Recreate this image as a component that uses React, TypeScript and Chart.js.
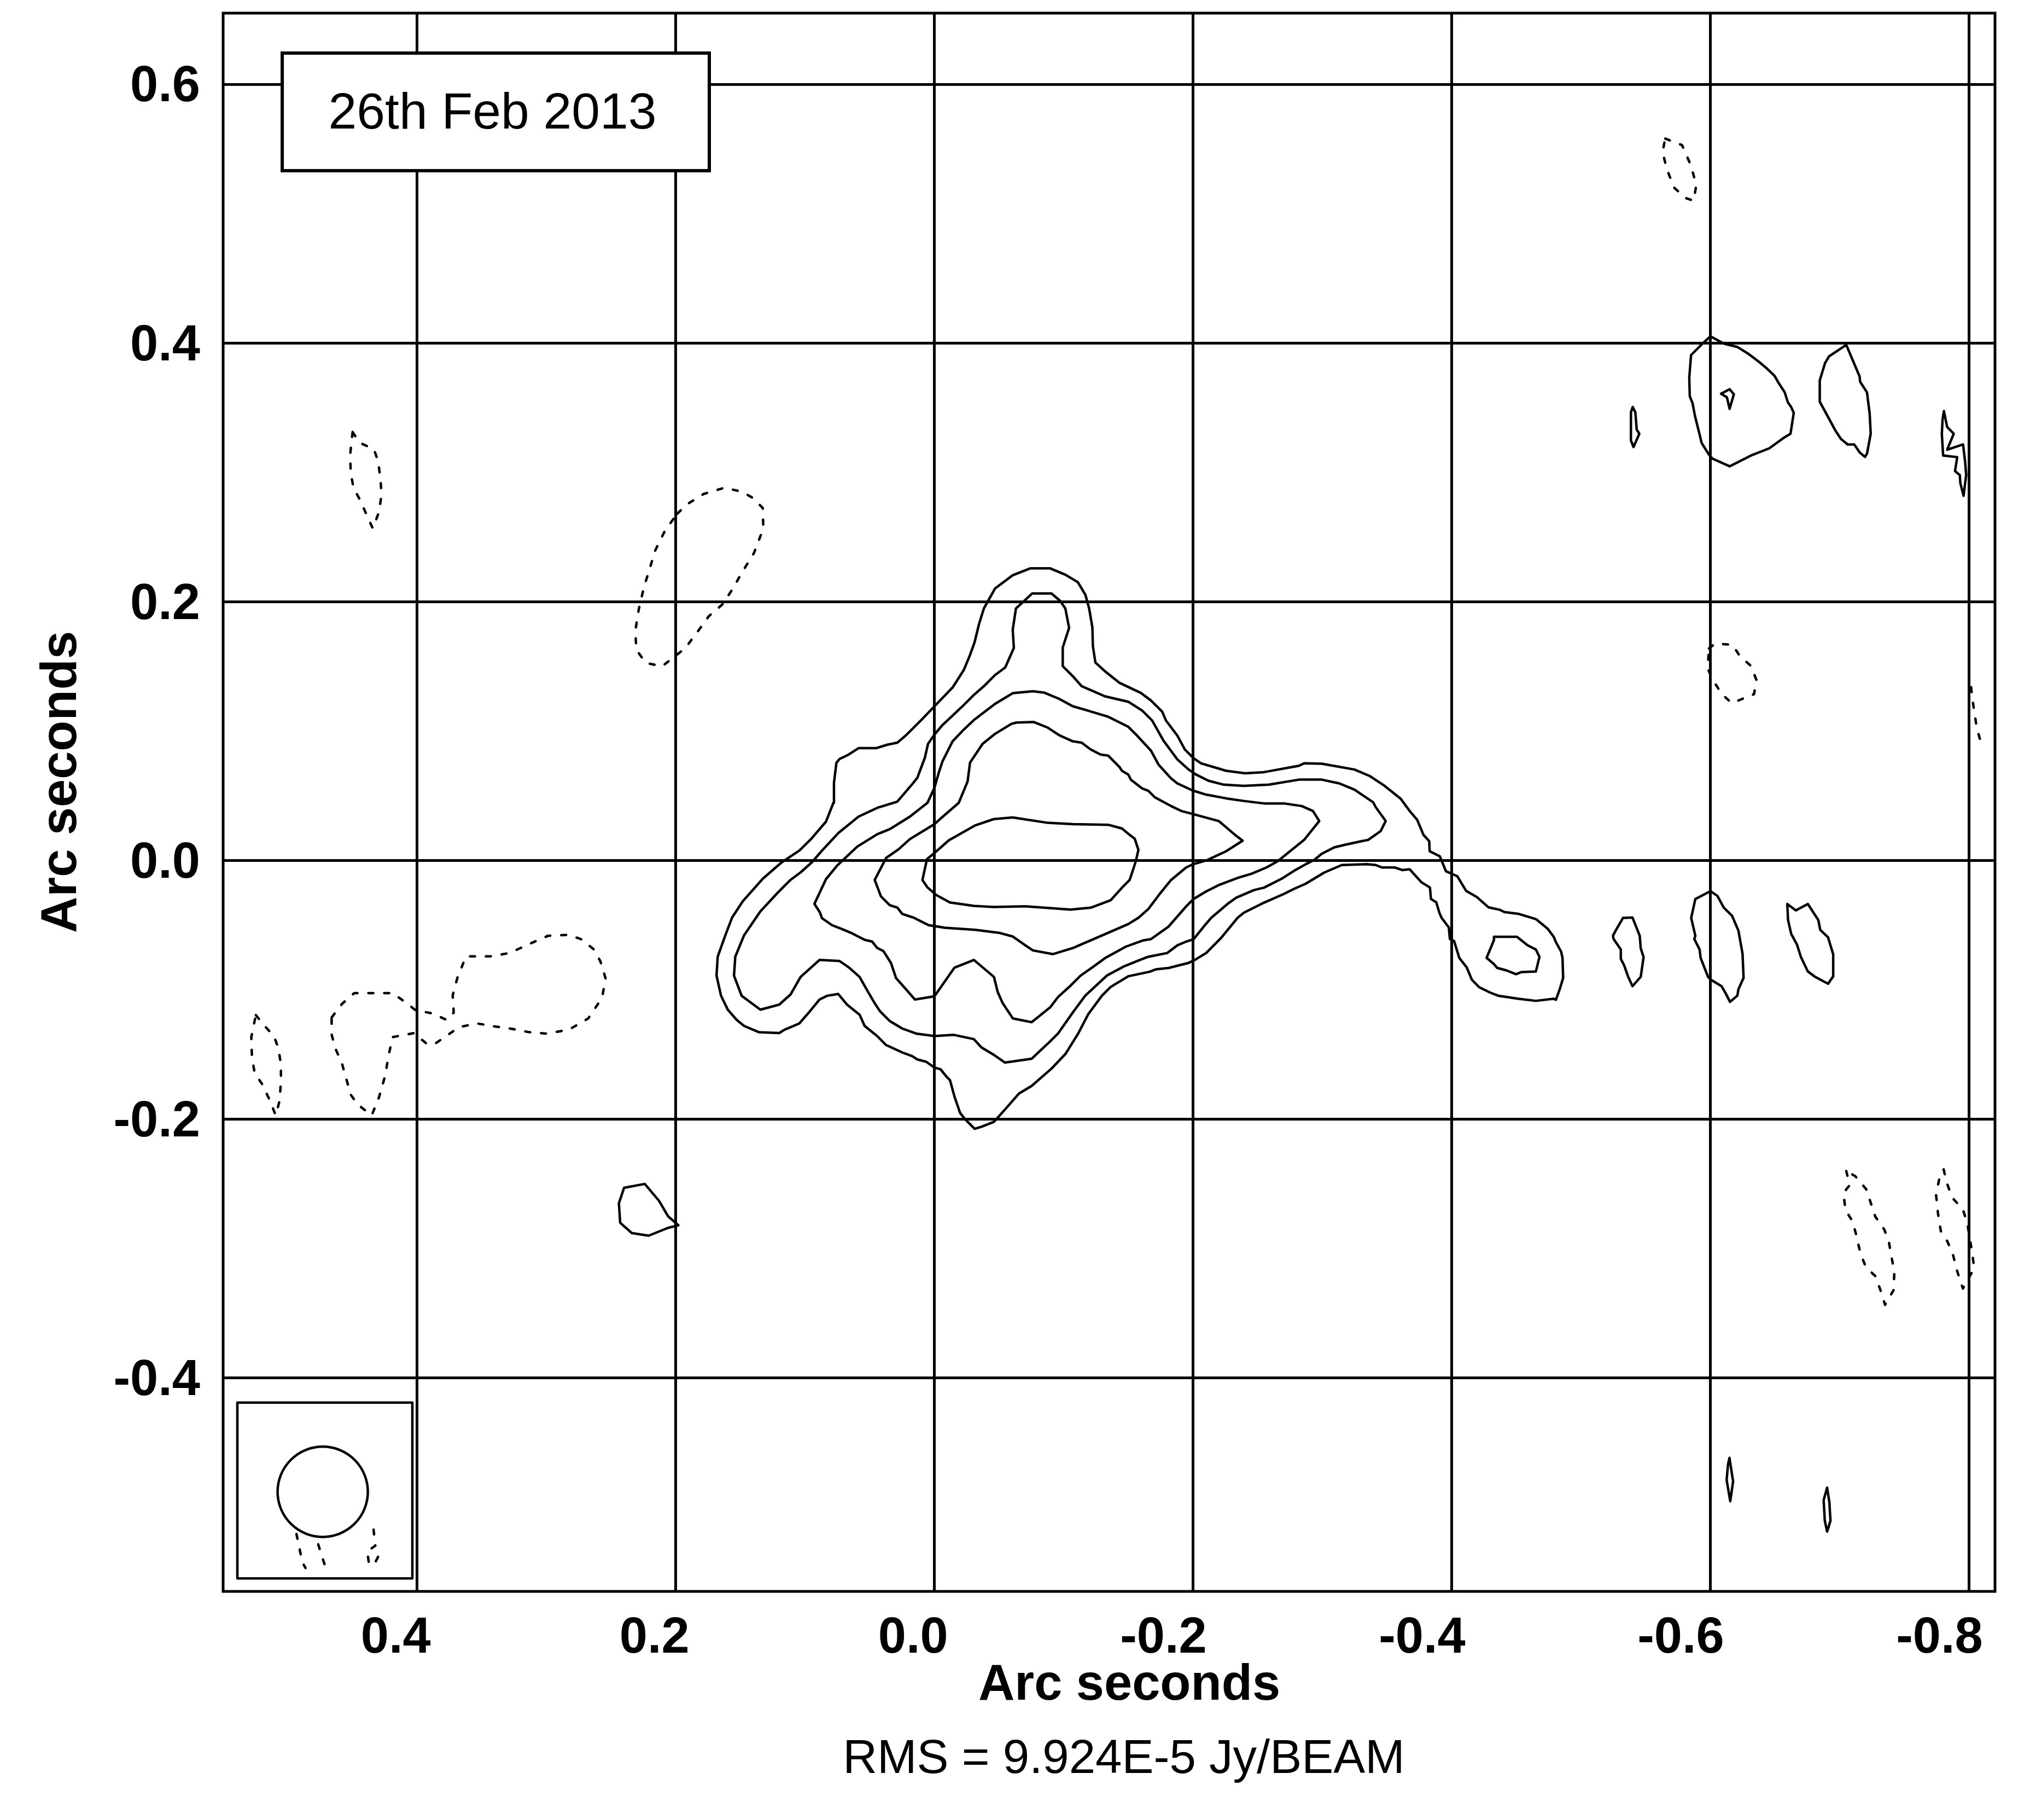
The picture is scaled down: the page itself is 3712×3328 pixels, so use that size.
import React, { useEffect, useRef } from "react";
import { Chart, registerables } from "chart.js";
Chart.register(...registerables);

type P = [number, number];

// ---- axes ----
const xMin = -0.82;
const xMax = 0.55;
const yMin = -0.565;
const yMax = 0.655;
const xTickValues = [0.4, 0.2, 0.0, -0.2, -0.4, -0.6, -0.8];
const xTickLabels = ["0.4", "0.2", "0.0", "-0.2", "-0.4", "-0.6", "-0.8"];
const yTickValues = [0.6, 0.4, 0.2, 0.0, -0.2, -0.4];
const yTickLabels = ["0.6", "0.4", "0.2", "0.0", "-0.2", "-0.4"];
const xAxisTitle = "Arc seconds";
const yAxisTitle = "Arc seconds";
const rmsNote = "RMS = 9.924E-5 Jy/BEAM";
const dateLabel = "26th Feb 2013";

// ---- positive contours (solid) ----
const level1Main: P[] = [
  [0.1685,-0.0890],[0.1676,-0.0744],[0.1617,-0.0578],[0.1565,-0.0442],[0.1482,-0.0315],[0.1326,-0.0140],[0.1181,-0.0014],[0.1043,0.0078],[0.0955,0.0165],[0.0839,0.0300],[0.0781,0.0446],[0.0777,0.0601],[0.0758,0.0756],[0.0733,0.0785],[0.0665,0.0818],[0.0587,0.0868],[0.0452,0.0868],[0.0364,0.0895],[0.0287,0.0911],[0.0219,0.0969],[0.0083,0.1105],[0.0,0.1192],[-0.0140,0.1337],[-0.0227,0.1473],[-0.0275,0.1589],[-0.0310,0.1686],[-0.0343,0.1822],[-0.0382,0.1948],[-0.0469,0.2103],[-0.0605,0.2205],[-0.0740,0.2258],[-0.0895,0.2258],[-0.1012,0.2209],[-0.1109,0.2151],[-0.1167,0.2054],[-0.1196,0.1948],[-0.1221,0.1802],[-0.1225,0.1657],[-0.1244,0.1531],[-0.1318,0.1463],
  [-0.1431,0.1373],[-0.1596,0.1295],[-0.1674,0.1237],[-0.1761,0.1150],[-0.1790,0.1082],[-0.1878,0.0965],[-0.1936,0.0858],[-0.2004,0.0790],[-0.2062,0.0751],[-0.2256,0.0693],[-0.2402,0.0674],[-0.2548,0.0683],[-0.2819,0.0732],[-0.2858,0.0751],[-0.2994,0.0748],[-0.3247,0.0703],[-0.3363,0.0654],[-0.3480,0.0577],[-0.3606,0.0476],[-0.3674,0.0383],[-0.3732,0.0315],[-0.3781,0.0198],[-0.3825,0.0150],[-0.3829,0.0072],[-0.3907,0.0033],[-0.3955,-0.0083],[-0.4043,-0.0122],[-0.4111,-0.0235],[-0.4194,-0.0283],
  [-0.4285,-0.0363],[-0.4367,-0.0380],[-0.4407,-0.0399],[-0.4513,-0.0412],[-0.4650,-0.0453],[-0.4740,-0.0526],[-0.4788,-0.0590],[-0.4805,-0.0631],[-0.4845,-0.0704],[-0.4856,-0.0753],[-0.4861,-0.0907],[-0.4837,-0.0988],[-0.4805,-0.1077],[-0.4788,-0.1069],[-0.4650,-0.1085],[-0.4513,-0.1069],[-0.4358,-0.1045],[-0.4294,-0.1020],[-0.4212,-0.0980],[-0.4156,-0.0923],[-0.4115,-0.0826],[-0.4058,-0.0753],[-0.4018,-0.0623],[-0.3985,-0.0607],[-0.3977,-0.0517],[-0.3921,-0.0444],[-0.3904,-0.0404],[-0.3880,-0.0323],[-0.3839,-0.0298],[-0.3831,-0.0209],[-0.3766,-0.0169],
  [-0.3674,-0.0068],[-0.3616,-0.0074],[-0.3557,-0.0054],[-0.3460,-0.0054],[-0.3412,-0.0035],[-0.3344,-0.0029],[-0.3150,-0.0035],[-0.3014,-0.0093],[-0.2868,-0.0181],[-0.2781,-0.0219],[-0.2703,-0.0258],[-0.2548,-0.0326],[-0.2392,-0.0404],[-0.2344,-0.0443],[-0.2217,-0.0598],[-0.2101,-0.0715],[-0.2023,-0.0763],[-0.1965,-0.0792],[-0.1810,-0.0831],[-0.1713,-0.0841],[-0.1664,-0.0860],[-0.1499,-0.0895],[-0.1363,-0.0977],[-0.1295,-0.1045],[-0.1188,-0.1190],
  [-0.1111,-0.1338],[-0.1014,-0.1494],[-0.0907,-0.1607],[-0.0751,-0.1743],[-0.0654,-0.1801],[-0.0548,-0.1922],[-0.0460,-0.2020],[-0.0363,-0.2058],[-0.0311,-0.2074],[-0.0237,-0.2000],[-0.0198,-0.1951],[-0.0155,-0.1825],[-0.0120,-0.1698],[-0.0091,-0.1669],[-0.0047,-0.1614],[0.0,-0.1601],[0.0064,-0.1556],[0.0132,-0.1538],[0.0171,-0.1513],[0.0249,-0.1484],[0.0375,-0.1426],[0.0443,-0.1357],[0.0540,-0.1279],[0.0579,-0.1192],[0.0676,-0.1114],[0.0744,-0.1032],[0.0831,-0.1046],[0.0889,-0.1075],[0.0977,-0.1182],[0.1045,-0.1260],[0.1161,-0.1309],[0.1200,-0.1334],[0.1355,-0.1328],[0.1472,-0.1279],[0.1530,-0.1231],[0.1598,-0.1153],[0.1650,-0.1046],[0.1685,-0.0890],
];

const level2Main: P[] = [
  [0.1346,-0.1153],[0.1491,-0.1046],[0.1550,-0.0890],[0.1540,-0.0744],[0.1472,-0.0578],[0.1346,-0.0393],[0.1210,-0.0247],[0.1113,-0.0150],[0.1035,-0.0092],[0.0948,-0.0014],[0.0868,0.0078],[0.0742,0.0213],[0.0587,0.0339],[0.0442,0.0407],[0.0287,0.0455],[0.0171,0.0591],[0.0132,0.0640],[0.0074,0.0795],[0.0050,0.0901],[0.0,0.0973],[-0.0062,0.1047],[-0.0217,0.1192],[-0.0304,0.1279],[-0.0382,0.1347],[-0.0469,0.1434],[-0.0547,0.1492],[-0.0614,0.1643],[-0.0605,0.1783],[-0.0630,0.1948],[-0.0682,0.1996],[-0.0756,0.2064],[-0.0905,0.2064],[-0.0973,0.2006],[-0.1012,0.1948],[-0.1041,0.1798],[-0.0992,0.1647],[-0.0992,0.1502],[-0.1070,0.1424],[-0.1138,0.1347],[-0.1205,0.1318],[-0.1318,0.1269],
  [-0.1499,0.1227],[-0.1606,0.1159],[-0.1683,0.1082],[-0.1771,0.0926],[-0.1878,0.0781],[-0.1965,0.0703],[-0.2023,0.0664],[-0.2120,0.0616],[-0.2237,0.0586],[-0.2392,0.0577],[-0.2586,0.0586],[-0.2819,0.0625],[-0.2994,0.0625],[-0.3130,0.0596],[-0.3247,0.0548],[-0.3392,0.0450],[-0.3412,0.0412],[-0.3489,0.0305],[-0.3450,0.0227],[-0.3353,0.0159],[-0.3305,0.0150],[-0.3169,0.0120],[-0.3091,0.0101],[-0.2994,0.0052],[-0.2936,0.0004],[-0.2878,-0.0025],[-0.2790,-0.0074],[-0.2683,-0.0142],[-0.2548,-0.0210],[-0.2470,-0.0229],[-0.2334,-0.0287],[-0.2266,-0.0336],[-0.2140,-0.0443],[-0.2082,-0.0511],[-0.2004,-0.0608],[-0.1946,-0.0627],[-0.1878,-0.0656],[-0.1800,-0.0715],[-0.1654,-0.0744],[-0.1577,-0.0773],[-0.1460,-0.0821],[-0.1334,-0.0889],
  [-0.1165,-0.1046],[-0.1072,-0.1172],[-0.0955,-0.1338],[-0.0897,-0.1396],[-0.0751,-0.1533],[-0.0544,-0.1562],[-0.0460,-0.1503],[-0.0363,-0.1445],[-0.0305,-0.1381],[-0.0150,-0.1348],[0.0,-0.1357],[0.0142,-0.1338],[0.0249,-0.1299],[0.0346,-0.1241],[0.0423,-0.1163],[0.0462,-0.1104],[0.0530,-0.0987],[0.0579,-0.0900],[0.0660,-0.0828],[0.0734,-0.0777],[0.0889,-0.0769],[0.1035,-0.0900],[0.1113,-0.1036],[0.1200,-0.1114],[0.1346,-0.1153],
];

const level3Main: P[] = [
  [0.0928,-0.0335],[0.0885,-0.0403],[0.0870,-0.0446],[0.0792,-0.0500],[0.0715,-0.0530],[0.0637,-0.0563],[0.0540,-0.0613],[0.0482,-0.0627],[0.0443,-0.0676],[0.0394,-0.0701],[0.0336,-0.0793],[0.0297,-0.0909],[0.0219,-0.0997],[0.0151,-0.1075],[0.0,-0.1050],[-0.0155,-0.0828],[-0.0305,-0.0769],[-0.0460,-0.0900],[-0.0489,-0.1017],[-0.0528,-0.1104],[-0.0606,-0.1221],[-0.0751,-0.1250],[-0.0897,-0.1133],[-0.0955,-0.1056],[-0.1052,-0.0968],[-0.1130,-0.0890],[-0.1227,-0.0822],[-0.1320,-0.0754],
  [-0.1480,-0.0666],[-0.1616,-0.0617],[-0.1674,-0.0608],[-0.1810,-0.0511],[-0.1946,-0.0355],[-0.2004,-0.0297],[-0.2101,-0.0239],[-0.2198,-0.0190],[-0.2353,-0.0132],[-0.2450,-0.0103],[-0.2567,-0.0054],[-0.2654,-0.0006],[-0.2858,0.0159],[-0.2975,0.0305],[-0.2926,0.0383],[-0.2839,0.0421],[-0.2703,0.0441],[-0.2548,0.0441],[-0.2392,0.0460],[-0.2256,0.0480],[-0.2101,0.0509],[-0.1994,0.0542],[-0.1878,0.0596],[-0.1829,0.0635],[-0.1732,0.0742],[-0.1674,0.0849],[-0.1567,0.0965],[-0.1499,0.1033],[-0.1344,0.1111],[-0.1150,0.1169],
  [-0.1070,0.1192],[-0.0963,0.1250],[-0.0847,0.1298],[-0.0760,0.1308],[-0.0605,0.1293],[-0.0469,0.1211],[-0.0304,0.1085],[-0.0227,0.1012],[-0.0140,0.0921],[-0.0062,0.0766],[-0.0033,0.0678],[0.0,0.0562],[0.0054,0.0446],[0.0190,0.0339],[0.0345,0.0242],[0.0442,0.0203],[0.0597,0.0107],[0.0752,-0.0039],[0.0839,-0.0145],[0.0928,-0.0335],
];

const level4Main: P[] = [
  [0.0462,-0.0150],[0.0414,-0.0277],[0.0346,-0.0345],[0.0287,-0.0364],[0.0249,-0.0413],[0.0161,-0.0442],[0.0045,-0.0500],[-0.0082,-0.0520],[-0.0315,-0.0536],[-0.0499,-0.0559],[-0.0606,-0.0588],[-0.0703,-0.0656],[-0.0761,-0.0695],[-0.0917,-0.0724],[-0.1072,-0.0676],[-0.1344,-0.0559],[-0.1499,-0.0491],[-0.1577,-0.0443],[-0.1654,-0.0375],[-0.1742,-0.0258],[-0.1829,-0.0151],[-0.1946,-0.0054],[-0.2000,-0.0029],[-0.2101,0.0000],[-0.2256,0.0072],[-0.2383,0.0153],[-0.2324,0.0198],[-0.2256,0.0256],[-0.2198,0.0305],[-0.1984,0.0363],[-0.1907,0.0383],[-0.1829,0.0421],[-0.1703,0.0489],[-0.1654,0.0538],[-0.1606,0.0557],[-0.1518,0.0625],[-0.1499,0.0664],[-0.1450,0.0693],[-0.1431,0.0722],[-0.1344,0.0810],[-0.1285,0.0819],[-0.1208,0.0858],
  [-0.1138,0.0911],[-0.1070,0.0921],[-0.0963,0.0969],[-0.0876,0.1027],[-0.0769,0.1070],[-0.0634,0.1066],[-0.0595,0.1056],[-0.0469,0.0979],[-0.0372,0.0901],[-0.0275,0.0756],[-0.0256,0.0610],[-0.0188,0.0446],[-0.0043,0.0320],[0.0,0.0281],[0.0190,0.0165],[0.0277,0.0087],[0.0374,0.0019],[0.0462,-0.0150],
];

const level5Main: P[] = [
  [0.0093,-0.0151],[0.0058,0.0010],[0.0,0.0058],[-0.0110,0.0155],[-0.0314,0.0271],[-0.0459,0.0320],[-0.0605,0.0333],[-0.0876,0.0291],[-0.1070,0.0281],[-0.1344,0.0276],[-0.1450,0.0247],[-0.1509,0.0198],[-0.1548,0.0169],[-0.1577,0.0082],[-0.1557,-0.0006],[-0.1509,-0.0151],[-0.1450,-0.0210],[-0.1363,-0.0307],[-0.1208,-0.0365],[-0.1052,-0.0380],[-0.0703,-0.0354],[-0.0460,-0.0360],[-0.0305,-0.0351],[-0.0120,-0.0325],[-0.0014,-0.0267],[0.0054,-0.0208],[0.0093,-0.0151],
];

const level2Knot: P[] = [
  [-0.4326,-0.0590],[-0.4504,-0.0590],[-0.4586,-0.0655],[-0.4650,-0.0688],[-0.4678,-0.0745],[-0.4650,-0.0858],[-0.4537,-0.0863],[-0.4496,-0.0879],[-0.4423,-0.0850],[-0.4350,-0.0830],[-0.4326,-0.0801],[-0.4269,-0.0753],[-0.4326,-0.0615],[-0.4326,-0.0590],
];

const blobEast1: P[] = [
  [-0.5324,-0.0444],[-0.5397,-0.0441],[-0.5453,-0.0582],[-0.5461,-0.0680],[-0.5483,-0.0746],[-0.5461,-0.0899],[-0.5397,-0.0972],[-0.5364,-0.0899],[-0.5332,-0.0810],[-0.5307,-0.0761],[-0.5307,-0.0688],[-0.5251,-0.0607],[-0.5246,-0.0582],[-0.5267,-0.0542],[-0.5324,-0.0444],
];
const blobEast2: P[] = [
  [-0.6000,-0.0237],[-0.6054,-0.0274],[-0.6102,-0.0363],[-0.6167,-0.0428],[-0.6216,-0.0542],[-0.6248,-0.0720],[-0.6256,-0.0907],[-0.6216,-0.0996],[-0.6208,-0.1045],[-0.6151,-0.1093],[-0.6118,-0.1028],[-0.6086,-0.0972],[-0.6005,-0.0923],[-0.5981,-0.0899],[-0.5924,-0.0753],[-0.5916,-0.0688],[-0.5875,-0.0607],[-0.5883,-0.0582],[-0.5851,-0.0444],[-0.5883,-0.0298],[-0.6000,-0.0237],
];
const blobEast3: P[] = [
  [-0.6594,-0.0336],[-0.6660,-0.0386],[-0.6753,-0.0336],[-0.6834,-0.0461],[-0.6849,-0.0537],[-0.6909,-0.0594],[-0.6949,-0.0726],[-0.6949,-0.0896],[-0.6909,-0.0953],[-0.6804,-0.0896],[-0.6753,-0.0858],[-0.6699,-0.0745],[-0.6669,-0.0650],[-0.6624,-0.0567],[-0.6600,-0.0461],[-0.6594,-0.0336],
];
const blobNE1: P[] = [
  [-0.6000,0.4052],[-0.6107,0.3994],[-0.6209,0.3969],[-0.6291,0.3918],[-0.6373,0.3856],[-0.6435,0.3804],[-0.6496,0.3746],[-0.6527,0.3691],[-0.6574,0.3619],[-0.6599,0.3540],[-0.6624,0.3505],[-0.6644,0.3460],[-0.6619,0.3299],[-0.6568,0.3268],[-0.6455,0.3186],[-0.6322,0.3134],[-0.6148,0.3047],[-0.6014,0.3107],[-0.5984,0.3144],[-0.5932,0.3227],[-0.5912,0.3309],[-0.5881,0.3433],[-0.5861,0.3536],[-0.5840,0.3588],[-0.5836,0.3732],[-0.5850,0.3907],[-0.5943,0.4000],[-0.6000,0.4052],
];
const blobNE1Peak: P[] = [
  [-0.6082,0.3608],[-0.6148,0.3643],[-0.6181,0.3604],[-0.6148,0.3491],[-0.6127,0.3581],[-0.6082,0.3608],
];
const slivNE: P[] = [
  [-0.5399,0.3505],[-0.5419,0.3464],[-0.5430,0.3330],[-0.5450,0.3299],[-0.5405,0.3196],[-0.5385,0.3247],[-0.5385,0.3464],[-0.5399,0.3505],
];
const blobNE2: P[] = [
  [-0.7050,0.3986],[-0.7153,0.3742],[-0.7157,0.3701],[-0.7210,0.3619],[-0.7231,0.3454],[-0.7239,0.3299],[-0.7210,0.3144],[-0.7194,0.3120],[-0.7153,0.3155],[-0.7112,0.3216],[-0.7061,0.3216],[-0.7009,0.3258],[-0.6968,0.3320],[-0.6907,0.3433],[-0.6845,0.3546],[-0.6845,0.3711],[-0.6886,0.3845],[-0.6917,0.3897],[-0.7050,0.3986],
];
const zigzagNE: P[] = [
  [-0.7805,0.3474],[-0.7830,0.3351],[-0.7881,0.3299],[-0.7830,0.3175],[-0.7953,0.3216],[-0.7969,0.3082],[-0.7977,0.2979],[-0.7957,0.2819],[-0.7932,0.2918],[-0.7928,0.2979],[-0.7891,0.3010],[-0.7908,0.3118],[-0.7799,0.3130],[-0.7789,0.3299],[-0.7795,0.3412],[-0.7805,0.3474],
];
const slivSE1: P[] = [
  [-0.6147,-0.4618],[-0.6175,-0.4800],[-0.6153,-0.4953],[-0.6125,-0.4788],[-0.6136,-0.4667],[-0.6147,-0.4618],
];
const slivSE2: P[] = [
  [-0.6902,-0.4848],[-0.6919,-0.4958],[-0.6928,-0.5103],[-0.6902,-0.5188],[-0.6884,-0.5103],[-0.6875,-0.4945],[-0.6902,-0.4848],
];
const blobSW: P[] = [
  [0.240,-0.253],[0.224,-0.250],[0.213,-0.263],[0.206,-0.275],[0.198,-0.282],[0.206,-0.284],[0.221,-0.290],[0.234,-0.288],[0.243,-0.280],[0.244,-0.265],[0.240,-0.253],
];

// ---- negative contours (dashed) ----
const negNW1: P[] = [
  [0.4499,0.3312],[0.4445,0.3229],[0.4335,0.3180],[0.4302,0.3089],[0.4283,0.2945],[0.4275,0.2824],[0.4297,0.2688],[0.4343,0.2567],[0.4391,0.2673],[0.4445,0.2794],[0.4491,0.2877],[0.4513,0.2991],[0.4518,0.3134],[0.4499,0.3312],
];
const negNW2: P[] = [
  [0.1989,0.2681],[0.1908,0.2756],[0.1787,0.2832],[0.1625,0.2881],[0.1490,0.2851],[0.1409,0.2805],[0.1328,0.2726],[0.1323,0.2567],[0.1395,0.2378],[0.1476,0.2246],[0.1571,0.2083],[0.1638,0.1981],[0.1746,0.1887],[0.1814,0.1792],[0.1927,0.1641],[0.2105,0.1501],[0.2232,0.1527],[0.2305,0.1629],[0.2313,0.1773],[0.2286,0.1943],[0.2246,0.2113],[0.2205,0.2246],[0.2159,0.2397],[0.2084,0.2548],[0.1989,0.2681],
];
const negW1: P[] = [
  [0.5247,-0.1195],[0.5188,-0.1270],[0.5107,-0.1357],[0.5074,-0.1448],[0.5053,-0.1573],[0.5053,-0.1705],[0.5063,-0.1856],[0.5093,-0.1970],[0.5147,-0.1837],[0.5201,-0.1724],[0.5255,-0.1648],[0.5277,-0.1524],[0.5282,-0.1365],[0.5247,-0.1195],
];
const negW2: P[] = [
  [0.4661,-0.1214],[0.4580,-0.1108],[0.4486,-0.1025],[0.4337,-0.1025],[0.4189,-0.1025],[0.4094,-0.1093],[0.4013,-0.1157],[0.3879,-0.1183],[0.3771,-0.1233],[0.3717,-0.1176],[0.3725,-0.1043],[0.3690,-0.0911],[0.3622,-0.0741],[0.3433,-0.0741],[0.3285,-0.0715],[0.3136,-0.0647],[0.2988,-0.0582],[0.2826,-0.0575],[0.2731,-0.0609],[0.2637,-0.0684],[0.2583,-0.0779],[0.2543,-0.0911],[0.2570,-0.1062],[0.2677,-0.1221],[0.2826,-0.1308],[0.3001,-0.1338],[0.3136,-0.1327],[0.3271,-0.1301],[0.3406,-0.1282],[0.3541,-0.1259],[0.3676,-0.1289],[0.3852,-0.1410],[0.3919,-0.1422],[0.4027,-0.1335],[0.4189,-0.1365],[0.4221,-0.1509],[0.4248,-0.1667],[0.4297,-0.1837],[0.4351,-0.1970],[0.4459,-0.1887],[0.4513,-0.1811],[0.4580,-0.1573],[0.4634,-0.1448],[0.4661,-0.1346],[0.4661,-0.1214],
];
const negNE1: P[] = [
  [-0.565,0.558],[-0.578,0.553],[-0.585,0.537],[-0.589,0.522],[-0.587,0.510],[-0.581,0.512],[-0.572,0.520],[-0.566,0.535],[-0.563,0.548],[-0.565,0.558],
];
const negNE2: P[] = [
  [-0.5988,0.1639],[-0.6035,0.1676],[-0.6168,0.1668],[-0.6230,0.1577],[-0.6312,0.1505],[-0.6357,0.1392],[-0.6336,0.1285],[-0.6164,0.1216],[-0.6086,0.1289],[-0.6014,0.1402],[-0.5979,0.1485],[-0.5988,0.1639],
];
const negEdge: P[] = [
  [-0.8015,0.134],[-0.8025,0.125],[-0.804,0.115],[-0.806,0.102],[-0.8095,0.090],
];
const negSE1: P[] = [
  [-0.7050,-0.2400],[-0.7077,-0.2509],[-0.7028,-0.2570],[-0.7044,-0.2703],[-0.7098,-0.2788],[-0.7131,-0.2909],[-0.7160,-0.3042],[-0.7204,-0.3147],[-0.7274,-0.3212],[-0.7317,-0.3328],[-0.7350,-0.3435],[-0.7416,-0.3321],[-0.7422,-0.3176],[-0.7400,-0.3067],[-0.7379,-0.2945],[-0.7344,-0.2853],[-0.7274,-0.2752],[-0.7234,-0.2630],[-0.7204,-0.2541],[-0.7120,-0.2441],[-0.7050,-0.2400],
];
const negSE2: P[] = [
  [-0.7803,-0.2388],[-0.7825,-0.2485],[-0.7869,-0.2606],[-0.7952,-0.2698],[-0.7985,-0.2800],[-0.8013,-0.2970],[-0.8022,-0.3018],[-0.8039,-0.3152],[-0.7952,-0.3309],[-0.7908,-0.3176],[-0.7875,-0.3047],[-0.7832,-0.2945],[-0.7781,-0.2865],[-0.7759,-0.2727],[-0.7744,-0.2582],[-0.7777,-0.2424],[-0.7803,-0.2388],
];

// ---- beam (restoring beam inset) ----
const beamCenter: P = [0.473, -0.488];
const beamDiameter = 0.0698; // arcsec
const beamBox: P[] = [[0.539,-0.419],[0.4037,-0.419],[0.4037,-0.555],[0.539,-0.555],[0.539,-0.419]];
const beamNeg1: P[] = [[0.4933,-0.5206],[0.4887,-0.5426],[0.4863,-0.5469]];
const beamNeg2: P[] = [[0.4765,-0.5286],[0.4708,-0.5465]];
const beamNeg3: P[] = [[0.4337,-0.5172],[0.4323,-0.5297],[0.4386,-0.5340],[0.4372,-0.5437]];
const beamNeg4: P[] = [[0.4302,-0.5383],[0.4337,-0.5452]];

// ---- date label box (data coordinates) ----
const dateBoxX: P = [0.5043, 0.1741];
const dateBoxY: P = [0.6241, 0.5332];

const solidContours: P[][] = [
  level1Main, level2Main, level3Main, level4Main, level5Main, level2Knot,
  blobEast1, blobEast2, blobEast3, blobNE1, blobNE1Peak, slivNE, blobNE2, zigzagNE,
  slivSE1, slivSE2, blobSW, beamBox,
];
const dashedContours: P[][] = [
  negNW1, negNW2, negW1, negW2, negNE1, negNE2, negEdge, negSE1, negSE2,
  beamNeg1, beamNeg2, beamNeg3, beamNeg4,
];

const FONT = '"Liberation Sans", Arial, Helvetica, sans-serif';

const textPlugin = {
  id: "annotText",
  afterDatasetsDraw(chart: any) {
    const ctx = chart.ctx;
    const xs = chart.scales.x;
    const ys = chart.scales.y;
    ctx.save();
    const x0 = xs.getPixelForValue(dateBoxX[0]);
    const x1 = xs.getPixelForValue(dateBoxX[1]);
    const y0 = ys.getPixelForValue(dateBoxY[0]);
    const y1 = ys.getPixelForValue(dateBoxY[1]);
    ctx.fillStyle = "#fff";
    ctx.fillRect(x0, y0, x1 - x0, y1 - y0);
    ctx.strokeStyle = "#000";
    ctx.lineWidth = 6;
    ctx.strokeRect(x0, y0, x1 - x0, y1 - y0);
    ctx.fillStyle = "#000";
    ctx.font = `93px ${FONT}`;
    ctx.textAlign = "center";
    ctx.textBaseline = "alphabetic";
    ctx.fillText(dateLabel, (x0 + x1) / 2 - 6, (y0 + y1) / 2 + 30);
    ctx.restore();
  },
  afterDraw(chart: any) {
    const ctx = chart.ctx;
    const a = chart.chartArea;
    ctx.save();
    ctx.strokeStyle = "#000";
    ctx.lineWidth = 5;
    ctx.strokeRect(a.left, a.top, a.right - a.left, a.bottom - a.top);
    ctx.fillStyle = "#000";
    ctx.textAlign = "center";
    ctx.textBaseline = "alphabetic";
    ctx.font = `bold 92px ${FONT}`;
    ctx.fillText(xAxisTitle, 2065, 3108);
    ctx.font = `87px ${FONT}`;
    ctx.fillText(rmsNote, 2055, 3242);
    ctx.font = `bold 92px ${FONT}`;
    ctx.translate(139, 1430);
    ctx.rotate(-Math.PI / 2);
    ctx.fillText(yAxisTitle, 0, 0);
    ctx.restore();
  },
};

export default function App() {
  const ref = useRef<HTMLCanvasElement | null>(null);
  useEffect(() => {
    if (!ref.current) return;
    const toXY = (pts: P[]) => pts.map(([x, y]) => ({ x, y }));
    const lineBase = {
      type: "scatter" as const,
      showLine: true,
      pointRadius: 0,
      borderColor: "#000",
      borderWidth: 4.5,
      fill: false,
      tension: 0,
      borderJoinStyle: "round" as const,
      borderCapStyle: "round" as const,
    };
    const datasets: any[] = [
      ...solidContours.map((c) => ({ ...lineBase, data: toXY(c) })),
      ...dashedContours.map((c) => ({ ...lineBase, data: toXY(c), borderDash: [9, 20] })),
      {
        type: "scatter",
        data: [{ x: beamCenter[0], y: beamCenter[1] }],
        showLine: false,
        pointStyle: "circle",
        pointRadius: (c: any) => {
          const s = c.chart.scales.x;
          return Math.abs(s.getPixelForValue(beamCenter[0] + beamDiameter / 2) - s.getPixelForValue(beamCenter[0]));
        },
        pointBorderWidth: 4.5,
        pointBorderColor: "#000",
        pointBackgroundColor: "rgba(0,0,0,0)",
      },
    ];
    const tickFont = { family: FONT, size: 92, weight: "bold" as const, lineHeight: 1.2 };
    const chart = new Chart(ref.current, {
      type: "scatter",
      data: { datasets },
      options: {
        responsive: false,
        devicePixelRatio: 1,
        animation: false,
        events: [],
        layout: { padding: { left: 0, top: 24, right: 64, bottom: 0 } },
        plugins: { legend: { display: false }, tooltip: { enabled: false }, title: { display: false } },
        scales: {
          x: {
            type: "linear",
            reverse: true,
            min: xMin,
            max: xMax,
            afterBuildTicks: (axis: any) => {
              axis.ticks = xTickValues.map((v) => ({ value: v }));
            },
            afterFit: (s: any) => {
              s.height = 418;
              s.paddingLeft = 0;
              s.paddingRight = 0;
            },
            grid: { color: "#000", lineWidth: 5, drawTicks: false },
            border: { display: false },
            ticks: {
              color: "#000",
              font: tickFont,
              padding: 31,
              align: "end",
              labelOffset: 25,
              maxRotation: 0,
              autoSkip: false,
              callback: (v: any) => {
                const i = xTickValues.findIndex((t) => Math.abs(t - Number(v)) < 1e-9);
                return i >= 0 ? xTickLabels[i] : "";
              },
            },
          },
          y: {
            type: "linear",
            min: yMin,
            max: yMax,
            afterBuildTicks: (axis: any) => {
              axis.ticks = yTickValues.map((v) => ({ value: v }));
            },
            afterFit: (s: any) => {
              s.width = 408;
              s.paddingTop = 0;
              s.paddingBottom = 0;
            },
            grid: { color: "#000", lineWidth: 5, drawTicks: false },
            border: { display: false },
            ticks: {
              color: "#000",
              font: tickFont,
              padding: 42,
              labelOffset: 6,
              autoSkip: false,
              callback: (v: any) => {
                const i = yTickValues.findIndex((t) => Math.abs(t - Number(v)) < 1e-9);
                return i >= 0 ? yTickLabels[i] : "";
              },
            },
          },
        },
      },
      plugins: [textPlugin],
    } as any);
    return () => chart.destroy();
  }, []);
  return (
    <div style={{ position: "absolute", left: 0, top: 0, width: 3712, height: 3328, background: "#fff" }}>
      <canvas ref={ref} width={3712} height={3328} style={{ display: "block", width: 3712, height: 3328 }} />
    </div>
  );
}
